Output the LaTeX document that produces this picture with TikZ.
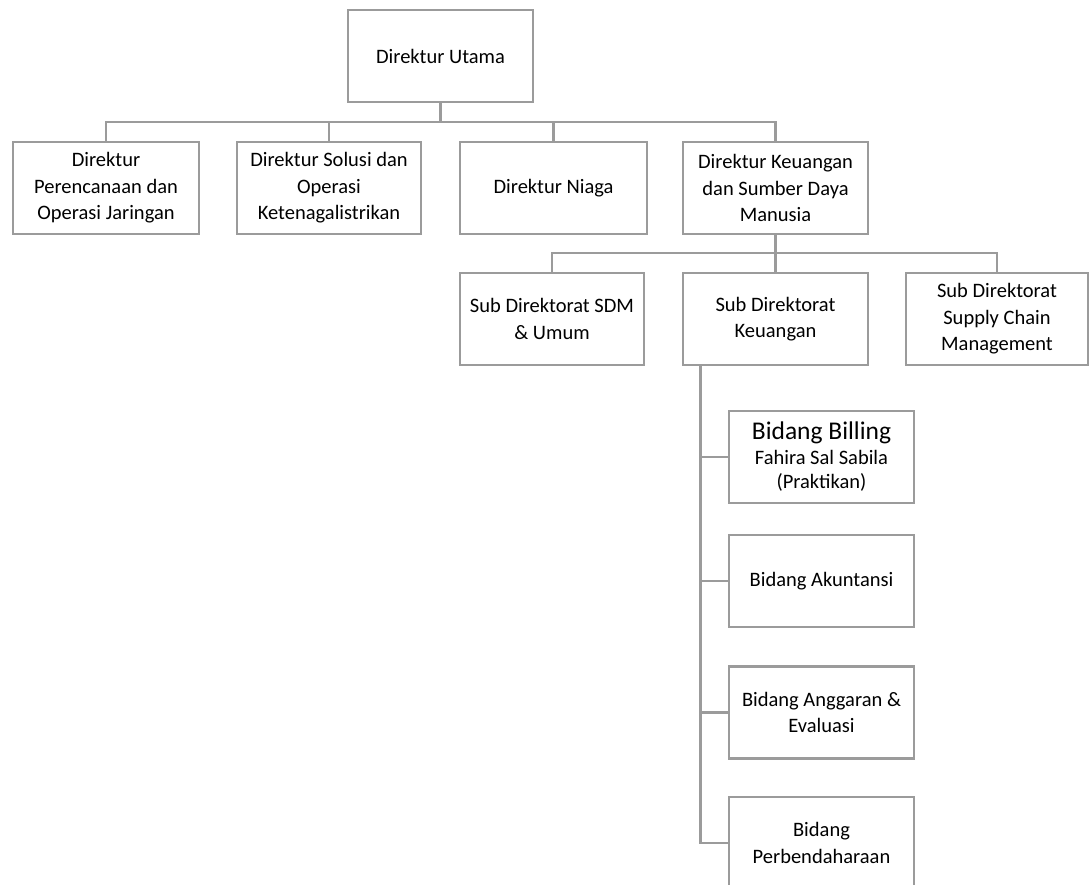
\documentclass[tikz,border=0pt]{standalone}
\usepackage{fontspec}
\setmainfont{Carlito}
\usetikzlibrary{calc}
\definecolor{linegray}{RGB}{155,155,155}
\begin{document}
\begin{tikzpicture}[x=1pt,y=-1pt,
  orgbox/.style={draw=linegray, line width=2.6pt, fill=white, inner sep=0pt,
    align=center, font=\fontsize{20.5}{26.5}\selectfont, text=black},
  conn/.style={draw=linegray, line width=2.6pt}]
\useasboundingbox (0,0) rectangle (1090,884);
\begin{scope}
\clip (0,0) rectangle (1090,884);
% top
\node[orgbox, minimum width=185, minimum height=92] (du) at (440.5,56) {Direktur Utama};
% level 1
\node[orgbox, minimum width=186, minimum height=92] (d1) at (106,188) {Direktur\\Perencanaan dan\\Operasi Jaringan};
\node[orgbox, minimum width=184, minimum height=92] (d2) at (329,188) {Direktur Solusi dan\\Operasi\\Ketenagalistrikan};
\node[orgbox, minimum width=187, minimum height=92] (d3) at (553.5,188) {Direktur Niaga};
\node[orgbox, minimum width=185, minimum height=92] (d4) at (775.5,188) {Direktur Keuangan\\dan Sumber Daya\\Manusia};
% level 2
\node[orgbox, minimum width=184, minimum height=92] (s1) at (552,319) {Sub Direktorat SDM\\\& Umum};
\node[orgbox, minimum width=185, minimum height=92] (s2) at (775.5,319) {Sub Direktorat\\Keuangan};
\node[orgbox, minimum width=182, minimum height=92] (s3) at (997,319) {Sub Direktorat\\Supply Chain\\Management};
% level 3
\node[orgbox, minimum width=185, minimum height=92, font=\fontsize{20.5}{24.5}\selectfont] (b1) at (821.5,457) {{\fontsize{25.5}{24.5}\selectfont Bidang Billing}\\Fahira Sal Sabila\\(Praktikan)};
\node[orgbox, minimum width=185, minimum height=92] (b2) at (821.5,581) {Bidang Akuntansi};
\node[orgbox, minimum width=185, minimum height=92] (b3) at (821.5,712.5) {Bidang Anggaran \&\\Evaluasi};
\node[orgbox, minimum width=185, minimum height=92] (b4) at (821.5,843) {Bidang\\Perbendaharaan};
% buses
\coordinate (bus1) at (0,122);
\coordinate (bus2) at (0,253);
\coordinate (spine) at ($(s2.south west)+(19,0)$);
\draw[conn] (du.south) -- (du.south |- bus1) -| (d1.north);
\draw[conn] (du.south) -- (du.south |- bus1) -| (d2.north);
\draw[conn] (du.south) -- (du.south |- bus1) -| (d3.north);
\draw[conn] (du.south) -- (du.south |- bus1) -| (d4.north);
\draw[conn] (d4.south) -- (d4.south |- bus2) -| (s1.north);
\draw[conn] (d4.south) -- (s2.north);
\draw[conn] (d4.south) -- (d4.south |- bus2) -| (s3.north);
\draw[conn] (spine) |- (b1.west);
\draw[conn] (spine) |- (b2.west);
\draw[conn] (spine) |- (b3.west);
\draw[conn] (spine) |- (b4.west);
\end{scope}
\end{tikzpicture}
\end{document}
